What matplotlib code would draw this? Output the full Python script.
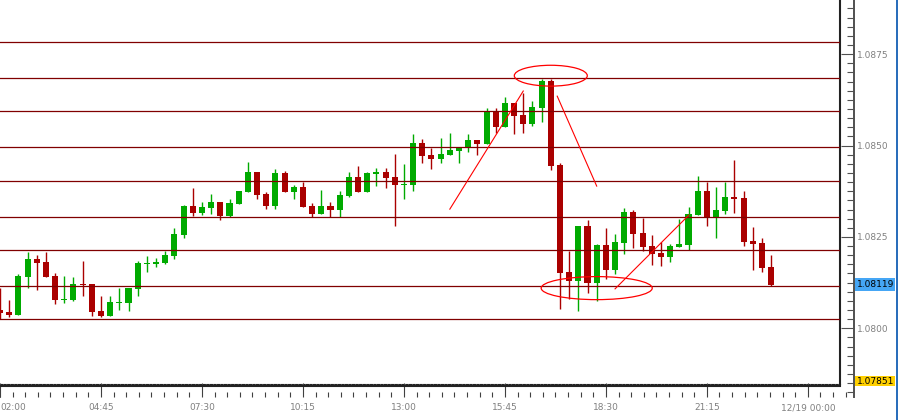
import matplotlib
matplotlib.use("Agg")
import matplotlib.pyplot as plt
import matplotlib.patches as mpatches
from matplotlib.ticker import MultipleLocator, FixedLocator
import numpy as np

# 15-minute EURUSD-style candles, 02:00 -> 23:00 (index 0 = 02:00)
opens = [1.08050, 1.08045, 1.08037, 1.08141, 1.08190, 1.08181, 1.08143, 1.08078, 1.08078, 1.08122,
         1.08121, 1.08047, 1.08035, 1.08070, 1.08070, 1.08108, 1.08177, 1.08177, 1.08180, 1.08199,
         1.08256, 1.08335, 1.08316, 1.08330, 1.08346, 1.08308, 1.08341, 1.08374, 1.08428, 1.08367,
         1.08335, 1.08425, 1.08374, 1.08387, 1.08335, 1.08314, 1.08335, 1.08325, 1.08362, 1.08414,
         1.08374, 1.08423, 1.08428, 1.08414, 1.08393, 1.08393, 1.08507, 1.08474, 1.08464, 1.08475,
         1.08486, 1.08496, 1.08515, 1.08505, 1.08594, 1.08552, 1.08616, 1.08584, 1.08560, 1.08603,
         1.08676, 1.08447, 1.08154, 1.08130, 1.08280, 1.08125, 1.08228, 1.08160, 1.08234, 1.08318,
         1.08261, 1.08225, 1.08206, 1.08196, 1.08223, 1.08229, 1.08310, 1.08376, 1.08305, 1.08321,
         1.08359, 1.08356, 1.08239, 1.08233, 1.08168]
highs = [1.08110, 1.08078, 1.08149, 1.08209, 1.08201, 1.08209, 1.08150, 1.08143, 1.08140, 1.08184,
         1.08121, 1.08088, 1.08088, 1.08110, 1.08110, 1.08184, 1.08198, 1.08192, 1.08212, 1.08274,
         1.08337, 1.08384, 1.08346, 1.08367, 1.08346, 1.08354, 1.08376, 1.08455, 1.08428, 1.08373,
         1.08436, 1.08430, 1.08392, 1.08400, 1.08343, 1.08378, 1.08346, 1.08376, 1.08428, 1.08444,
         1.08428, 1.08439, 1.08439, 1.08477, 1.08450, 1.08531, 1.08518, 1.08494, 1.08521, 1.08534,
         1.08494, 1.08531, 1.08515, 1.08603, 1.08603, 1.08633, 1.08616, 1.08644, 1.08622, 1.08682,
         1.08682, 1.08451, 1.08212, 1.08280, 1.08296, 1.08231, 1.08274, 1.08258, 1.08329, 1.08324,
         1.08303, 1.08255, 1.08236, 1.08231, 1.08299, 1.08332, 1.08417, 1.08400, 1.08387, 1.08400,
         1.08460, 1.08376, 1.08277, 1.08247, 1.08201]
lows = [1.08026, 1.08032, 1.08037, 1.08111, 1.08105, 1.08141, 1.08067, 1.08070, 1.08076, 1.08089,
        1.08035, 1.08032, 1.08035, 1.08050, 1.08048, 1.08089, 1.08154, 1.08169, 1.08177, 1.08189,
        1.08248, 1.08307, 1.08311, 1.08314, 1.08297, 1.08305, 1.08341, 1.08374, 1.08355, 1.08327,
        1.08327, 1.08374, 1.08355, 1.08333, 1.08305, 1.08314, 1.08305, 1.08305, 1.08359, 1.08374,
        1.08374, 1.08390, 1.08385, 1.08280, 1.08355, 1.08376, 1.08453, 1.08437, 1.08453, 1.08475,
        1.08453, 1.08483, 1.08475, 1.08505, 1.08535, 1.08552, 1.08532, 1.08535, 1.08554, 1.08565,
        1.08433, 1.08054, 1.08081, 1.08048, 1.08097, 1.08076, 1.08136, 1.08149, 1.08204, 1.08221,
        1.08212, 1.08174, 1.08171, 1.08182, 1.08223, 1.08215, 1.08310, 1.08280, 1.08247, 1.08313,
        1.08315, 1.08225, 1.08160, 1.08155, 1.08116]
closes = [1.08042, 1.08037, 1.08143, 1.08190, 1.08180, 1.08141, 1.08078, 1.08081, 1.08121, 1.08119,
          1.08045, 1.08035, 1.08072, 1.08072, 1.08110, 1.08179, 1.08180, 1.08181, 1.08201, 1.08258,
          1.08335, 1.08316, 1.08332, 1.08346, 1.08308, 1.08343, 1.08376, 1.08428, 1.08366, 1.08335,
          1.08425, 1.08374, 1.08387, 1.08333, 1.08314, 1.08335, 1.08325, 1.08365, 1.08414, 1.08374,
          1.08425, 1.08428, 1.08412, 1.08393, 1.08396, 1.08507, 1.08472, 1.08464, 1.08477, 1.08488,
          1.08494, 1.08515, 1.08505, 1.08594, 1.08552, 1.08616, 1.08582, 1.08560, 1.08605, 1.08676,
          1.08445, 1.08152, 1.08130, 1.08280, 1.08125, 1.08228, 1.08160, 1.08236, 1.08318, 1.08259,
          1.08223, 1.08204, 1.08196, 1.08225, 1.08231, 1.08313, 1.08376, 1.08305, 1.08324, 1.08359,
          1.08354, 1.08236, 1.08231, 1.08166, 1.08119]

# horizontal support / resistance lines drawn on the chart
level_prices = [1.08782, 1.08684, 1.08594, 1.08495, 1.08402, 1.08304, 1.08214, 1.08116, 1.08026]

# hand-drawn annotations (candle index, price)
ell_x = [60.0, 65.0]
ell_y = [1.08691, 1.08110]
ell_w = [7.95, 12.1]
ell_h = [0.00057, 0.00063]
trend_x0 = [49.0, 60.7, 67.0]
trend_y0 = [1.08326, 1.08635, 1.08108]
trend_x1 = [57.0, 65.0, 75.05]
trend_y1 = [1.08649, 1.08389, 1.08310]

time_ticks = [0, 11, 22, 33, 44, 55, 66, 77, 88]
time_labels = ["02:00", "04:45", "07:30", "10:15", "13:00", "15:45", "18:30", "21:15", "12/19 00:00"]
price_ticks = [1.0800, 1.0825, 1.0850, 1.0875]
last_price = "1.08119"
low_price = "1.07851"

W, H = 898, 420
PX = 9.18            # pixels per candle
P_TOP = 1.08898      # price at top edge
P_PER_PX = 0.00002735

def box(x0, y0, x1, y1):
    return [x0 / W, 1 - y1 / H, (x1 - x0) / W, (y1 - y0) / H]

fig = plt.figure(figsize=(W / 100, H / 100), dpi=100)
fig.patch.set_facecolor("white")

GREEN = "#00aa00"
RED = "#aa0000"
GREY = "#808080"

# --- main chart -----------------------------------------------------------
ax = fig.add_axes(box(0, 0, 840, 384))
ax.set_xlim(0, 840 / PX)
ax.set_ylim(P_TOP - 384 * P_PER_PX, P_TOP)

o = np.array(opens); h = np.array(highs); l = np.array(lows); c = np.array(closes)
idx = np.arange(len(o))
up = c > o
cols = np.where(up, GREEN, RED)
bottom = np.minimum(o, c)
height = np.maximum(np.abs(c - o), 0.00003)

ax.vlines(idx, l, h, colors=cols, lw=1.0, zorder=2)
ax.bar(idx, height, bottom=bottom, width=0.66, color=cols, edgecolor="none", zorder=3)

for p in level_prices:
    ax.axhline(p, color="#800000", lw=0.9, zorder=4)

for xc, yc, w, hh in zip(ell_x, ell_y, ell_w, ell_h):
    ax.add_patch(mpatches.Ellipse((xc, yc), w, hh, fill=False, edgecolor="#ff0000",
                                  lw=0.9, zorder=5))
for x0, y0, x1, y1 in zip(trend_x0, trend_y0, trend_x1, trend_y1):
    ax.plot([x0, x1], [y0, y1], color="#ff0000", lw=0.8, zorder=5)

ax.set_xticks([]); ax.set_yticks([])
for s in ("top", "left"):
    ax.spines[s].set_visible(False)
ax.spines["right"].set_color("#222222")
ax.spines["right"].set_linewidth(1.5)
ax.spines["bottom"].set_color("#222222")
ax.spines["bottom"].set_linewidth(0.8)
ax.spines["bottom"].set_linestyle((0, (2, 1.2)))

# --- time strip -----------------------------------------------------------
tx = fig.add_axes(box(0, 386, 854, 397))
tx.set_xlim(0, 854 / PX)
tx.set_ylim(0, 1)
tx.patch.set_alpha(0)
tx.set_yticks([])
tx.xaxis.set_major_locator(FixedLocator(time_ticks))
tx.xaxis.set_minor_locator(MultipleLocator(11 / 8))
tx.set_xticklabels(time_labels)
tx.tick_params(axis="x", which="major", direction="in", length=10, width=0.8,
               color="#404040", labelsize=6.5, labelcolor=GREY, pad=4.5)
tx.tick_params(axis="x", which="minor", direction="in", length=3.6, width=0.8,
               color="#404040")
tx.get_xticklabels()[0].set_horizontalalignment("left")
tx.spines["right"].set_visible(False)
tx.spines["bottom"].set_visible(False)
tx.spines["top"].set_color("#222222")
tx.spines["top"].set_linewidth(1.5)
tx.spines["top"].set_bounds(0, 840 / PX)
tx.spines["left"].set_color("#404040")
tx.spines["left"].set_linewidth(1.2)

# --- price scale ----------------------------------------------------------
px_ax = fig.add_axes(box(840, 0, 854, 397))
px_ax.set_ylim(P_TOP - 397 * P_PER_PX, P_TOP)
px_ax.set_xlim(0, 1)
px_ax.patch.set_alpha(0)
px_ax.set_xticks([])
px_ax.yaxis.tick_right()
px_ax.yaxis.set_major_locator(FixedLocator(price_ticks))
px_ax.yaxis.set_minor_locator(MultipleLocator(0.00025))
px_ax.set_yticklabels([f"{p:.4f}" for p in price_ticks])
px_ax.tick_params(axis="y", which="major", direction="in", length=9.4, width=0.8,
                  color="#505050", labelsize=6.5, labelcolor=GREY, pad=2)
px_ax.tick_params(axis="y", which="minor", direction="in", length=5, width=0.8,
                  color="#505050")
for s in ("top", "left", "bottom"):
    px_ax.spines[s].set_visible(False)
px_ax.spines["right"].set_color("#505050")
px_ax.spines["right"].set_linewidth(1.4)

# price tags
fig.add_artist(mpatches.Rectangle((855 / W, 1 - 291 / H), 40 / W, 13 / H,
                                  transform=fig.transFigure, color="#45a6f5", lw=0))
fig.text(857 / W, 1 - 284.5 / H, last_price, fontsize=6.5, color="black",
         va="center", ha="left")
fig.add_artist(mpatches.Rectangle((855 / W, 1 - 386 / H), 40 / W, 10 / H,
                                  transform=fig.transFigure, color="#ffd000", lw=0))
fig.text(857 / W, 1 - 381 / H, low_price, fontsize=6.5, color="black",
         va="center", ha="left")

# window edge
fig.add_artist(mpatches.Rectangle((895.5 / W, 0), 2.5 / W, 1,
                                  transform=fig.transFigure, color="#2a6ebb", lw=0))

fig.savefig("out.png", dpi=100)
